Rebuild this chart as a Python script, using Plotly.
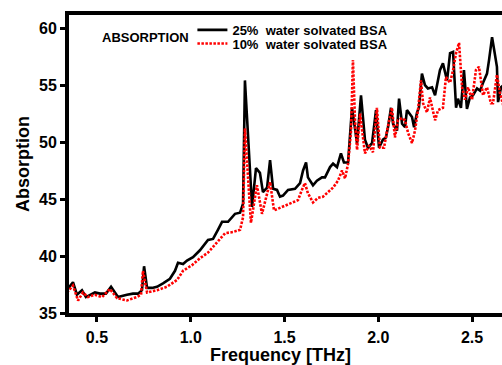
import plotly.graph_objects as go

# 25% water solvated BSA (black, solid)
freq_25 = [0.340, 0.372, 0.393, 0.420, 0.441, 0.489, 0.516, 0.548, 0.575, 0.596,
           0.612, 0.660, 0.692, 0.719, 0.740, 0.751, 0.767, 0.793, 0.820, 0.852,
           0.889, 0.916, 0.932, 0.959, 0.980, 1.012, 1.049, 1.092, 1.119, 1.145,
           1.167, 1.199, 1.236, 1.263, 1.279, 1.289, 1.327, 1.348, 1.369, 1.385,
           1.407, 1.423, 1.439, 1.460, 1.476, 1.492, 1.519, 1.556, 1.583, 1.599,
           1.615, 1.625, 1.652, 1.673, 1.700, 1.716, 1.743, 1.759, 1.780, 1.801,
           1.817, 1.839, 1.849, 1.860, 1.887, 1.908, 1.929, 1.945, 1.967, 1.988,
           2.004, 2.025, 2.041, 2.052, 2.068, 2.079, 2.100, 2.111, 2.127, 2.143,
           2.153, 2.180, 2.191, 2.207, 2.217, 2.233, 2.249, 2.265, 2.287, 2.303,
           2.329, 2.345, 2.367, 2.383, 2.399, 2.415, 2.425, 2.441, 2.457, 2.473,
           2.489, 2.505, 2.527, 2.543, 2.559, 2.580, 2.591, 2.607, 2.617, 2.633,
           2.639, 2.655, 2.670]
abs_25 = [37.0, 37.7, 36.6, 37.0, 36.4, 36.8, 36.7, 36.7, 37.3, 36.8,
          36.4, 36.6, 36.7, 36.7, 37.0, 39.1, 37.2, 37.2, 37.3, 37.6,
          38.0, 38.7, 39.4, 39.3, 39.6, 39.9, 40.5, 41.4, 41.5, 42.3,
          43.0, 43.0, 43.7, 43.8, 44.6, 55.4, 44.3, 47.7, 47.3, 45.6,
          46.0, 48.4, 45.9, 45.8, 45.2, 45.3, 45.8, 45.9, 46.4, 47.5,
          48.2, 46.9, 46.2, 46.6, 46.9, 46.9, 47.8, 48.1, 47.8, 49.0,
          48.2, 48.2, 51.0, 53.0, 49.9, 54.1, 50.2, 49.5, 49.9, 52.8,
          49.5, 50.2, 50.4, 51.3, 53.0, 51.6, 51.0, 53.8, 51.6, 51.3,
          52.8, 52.2, 51.3, 52.6, 53.0, 56.0, 55.0, 54.7, 54.8, 54.1,
          56.3, 56.9, 55.4, 57.8, 57.9, 53.0, 53.8, 53.0, 56.3, 52.9,
          53.9, 54.1, 54.7, 54.5, 55.2, 56.0, 57.2, 59.2, 58.2, 56.6,
          53.5, 54.8, 55.0]

# 10% water solvated BSA (red, dotted)
freq_10 = [0.340, 0.372, 0.399, 0.425, 0.452, 0.489, 0.527, 0.569, 0.607, 0.660,
           0.713, 0.735, 0.745, 0.767, 0.820, 0.873, 0.927, 0.959, 1.007, 1.049,
           1.092, 1.140, 1.183, 1.225, 1.263, 1.279, 1.289, 1.321, 1.353, 1.380,
           1.401, 1.423, 1.444, 1.471, 1.492, 1.519, 1.545, 1.572, 1.593, 1.609,
           1.625, 1.652, 1.679, 1.705, 1.732, 1.759, 1.785, 1.807, 1.823, 1.839,
           1.855, 1.865, 1.876, 1.887, 1.903, 1.929, 1.951, 1.972, 1.993, 2.009,
           2.031, 2.047, 2.073, 2.089, 2.105, 2.127, 2.143, 2.159, 2.180, 2.196,
           2.212, 2.228, 2.239, 2.260, 2.276, 2.303, 2.319, 2.345, 2.361, 2.383,
           2.399, 2.415, 2.431, 2.447, 2.463, 2.479, 2.500, 2.521, 2.537, 2.559,
           2.580, 2.601, 2.612, 2.633, 2.649, 2.670]
abs_10 = [36.8, 37.4, 36.1, 36.8, 36.4, 36.6, 36.4, 37.1, 36.3, 36.1,
          36.4, 36.6, 38.7, 36.8, 37.0, 37.3, 37.9, 38.7, 39.2, 39.8,
          40.3, 41.2, 42.0, 42.1, 42.3, 43.4, 51.2, 42.9, 46.2, 43.7,
          45.2, 46.5, 44.0, 44.2, 44.3, 44.5, 44.7, 44.9, 45.8, 46.4,
          45.5, 44.7, 45.1, 45.2, 45.6, 46.0, 46.6, 47.5, 46.8, 48.1,
          51.0, 57.2, 51.9, 49.3, 52.5, 49.0, 49.7, 49.1, 53.0, 49.5,
          49.5, 51.0, 53.0, 50.4, 51.9, 52.1, 51.9, 50.8, 49.9, 51.0,
          52.8, 55.4, 53.4, 52.6, 53.9, 51.9, 52.8, 53.0, 55.7, 55.2,
          56.3, 57.8, 58.7, 54.8, 53.7, 54.8, 53.7, 56.3, 56.6, 54.1,
          54.8, 53.4, 53.4, 55.9, 54.3, 53.0]

x_ticks = [0.5, 1.0, 1.5, 2.0, 2.5]
x_tick_labels = ["0.5", "1.0", "1.5", "2.0", "2.5"]
y_ticks = [35, 40, 45, 50, 55, 60]
y_tick_labels = ["35", "40", "45", "50", "55", "60"]

FONT = "Liberation Sans, Arial, sans-serif"

fig = go.Figure()
fig.add_trace(go.Scatter(
    x=freq_25, y=abs_25, mode="lines", name="25%  water solvated BSA",
    line=dict(color="#000000", width=2.6), legend="legend"))
fig.add_trace(go.Scatter(
    x=freq_10, y=abs_10, mode="lines", name="10%  water solvated BSA",
    line=dict(color="#ff0000", width=2.6, dash="2.5px,1.5px"), legend="legend2"))

leg_common = dict(
    xanchor="left", yanchor="middle", bgcolor="rgba(0,0,0,0)",
    borderwidth=0, font=dict(family=FONT, size=13, color="#000", weight="bold"),
    itemwidth=30,
)
fig.update_layout(
    width=502, height=365,
    margin=dict(l=69, r=0, t=15, b=52),
    paper_bgcolor="white", plot_bgcolor="white",
    showlegend=True,
    legend=dict(x=0.2850, y=0.950, **leg_common),
    legend2=dict(x=0.2850, y=0.904, **leg_common),
    font=dict(family=FONT, color="#000"),
    annotations=[
        dict(text="ABSORPTION", xref="paper", yref="paper", x=0.177, y=0.925,
             xanchor="center", yanchor="middle", showarrow=False,
             font=dict(family=FONT, size=13, color="#000", weight="bold")),
        dict(text="Frequency [THz]", xref="paper", yref="paper",
             x=0.4896, y=-0.142, xanchor="center", yanchor="middle",
             showarrow=False,
             font=dict(family=FONT, size=18, color="#000", weight="bold")),
    ],
)
fig.update_xaxes(
    range=[0.3507, 2.66], tickvals=x_ticks, ticktext=x_tick_labels,
    showgrid=False, zeroline=False, showline=True, linecolor="#000",
    linewidth=4, mirror=True, ticks="outside", ticklen=5, tickwidth=3,
    tickcolor="#000", ticklabelstandoff=2,
    tickfont=dict(family=FONT, size=16, color="#000", weight="bold"),
)
fig.update_yaxes(
    range=[35.0, 61.14], tickvals=y_ticks, ticktext=y_tick_labels,
    showgrid=False, zeroline=False, showline=True, linecolor="#000",
    linewidth=4, ticks="outside", ticklen=5, tickwidth=3, tickcolor="#000",
    tickfont=dict(family=FONT, size=16, color="#000", weight="bold"),
    title=dict(text="Absorption", standoff=6,
               font=dict(family=FONT, size=18, color="#000", weight="bold")),
)
fig.write_html("out.html")
